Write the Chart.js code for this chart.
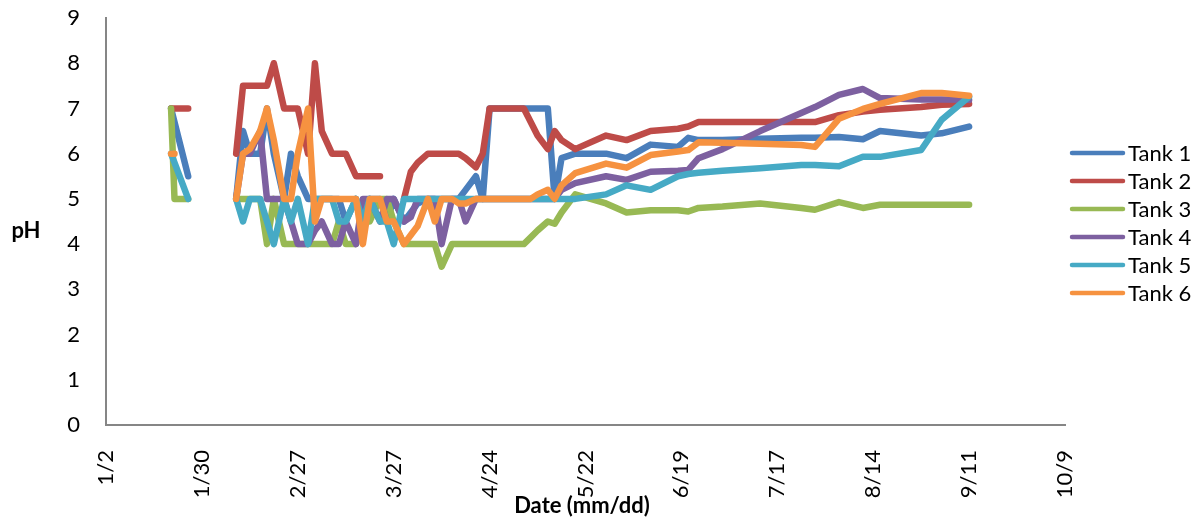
<!DOCTYPE html>
<html>
<head>
<meta charset="utf-8">
<title>Tank pH</title>
<script src="https://cdn.jsdelivr.net/npm/chart.js@4.4.0/dist/chart.umd.min.js"></script>
<style>
  html, body { margin: 0; padding: 0; background: #ffffff; }
  canvas { display: block; }
</style>
</head>
<body>
<canvas id="phChart" width="1200" height="520"></canvas>
<script>
// Sampling dates (m/d); "2/1" carries no readings and separates the January run from the rest.
const sampleDates = [
  '1/21', '1/22', '1/26', '2/1',
  '2/9', '2/11', '2/13', '2/16', '2/18', '2/20', '2/23', '2/25', '2/27', '3/2',
  '3/4', '3/6', '3/9', '3/11', '3/13', '3/16', '3/18', '3/20', '3/23', '3/25',
  '3/27', '3/30', '4/1', '4/3', '4/6', '4/8', '4/10', '4/13', '4/15', '4/17',
  '4/20', '4/22', '4/24', '4/27', '4/29', '5/1', '5/4', '5/6', '5/8', '5/11',
  '5/13', '5/15',
  '5/19', '5/28', '6/3', '6/10', '6/18', '6/21', '6/24', '7/1', '7/12', '7/24',
  '7/28', '8/4', '8/11', '8/16', '8/28', '9/3', '9/11'
];

// pH readings per tank (null = no reading / line break)
const tank1 = [
  7.0, 6.7, 5.5, null,
  5.0, 6.5, 6.0, 6.0, 7.0, 6.0, 5.0, 6.0, 5.5, 5.0,
  5.0, 5.0, 5.0, 5.0, 4.5, 5.0, 4.5, 5.0, 5.0, 4.5,
  5.0, 4.5, 4.7, 4.9, 5.0, 5.0, 5.0, 5.0, 5.0, 5.2,
  5.5, 5.0, 7.0, 7.0, 7.0, 7.0, 7.0, 7.0, 7.0, 7.0,
  5.0, 5.9,
  6.0, 6.0, 5.9, 6.2, 6.15, 6.35, 6.3, 6.3, 6.33, 6.35,
  6.35, 6.37, 6.32, 6.5, 6.4, 6.45, 6.6
];
const tank2 = [
  7.0, 7.0, 7.0, null,
  6.0, 7.5, 7.5, 7.5, 7.5, 8.0, 7.0, 7.0, 7.0, 6.0,
  8.0, 6.5, 6.0, 6.0, 6.0, 5.5, 5.5, 5.5, 5.5, null,
  null, 5.0, 5.6, 5.8, 6.0, 6.0, 6.0, 6.0, 6.0, 5.9,
  5.7, 6.0, 7.0, 7.0, 7.0, 7.0, 7.0, 6.7, 6.4, 6.1,
  6.5, 6.3,
  6.1, 6.4, 6.3, 6.5, 6.55, 6.6, 6.7, 6.7, 6.7, 6.7,
  6.7, 6.85, 6.93, 6.97, 7.03, 7.08, 7.1
];
const tank3 = [
  7.0, 5.0, 5.0, null,
  5.0, 5.0, 5.0, 5.0, 4.0, 5.0, 4.0, 4.0, 4.0, 4.0,
  4.0, 4.0, 4.0, 4.5, 4.0, 4.0, 4.5, 4.5, 5.0, 5.0,
  4.5, 4.0, 4.0, 4.0, 4.0, 4.0, 3.5, 4.0, 4.0, 4.0,
  4.0, 4.0, 4.0, 4.0, 4.0, 4.0, 4.0, 4.15, 4.3, 4.5,
  4.45, 4.7,
  5.1, 4.9, 4.7, 4.75, 4.75, 4.72, 4.8, 4.83, 4.9, 4.8,
  4.76, 4.93, 4.8, 4.87, 4.87, 4.87, 4.87
];
const tank4 = [
  null, null, null, null,
  5.0, 6.0, 6.0, 6.5, 5.0, 5.0, 5.0, 4.5, 4.0, 4.0,
  4.3, 4.5, 4.0, 4.0, 4.5, 4.0, 5.0, 5.0, 4.5, 5.0,
  5.0, 4.5, 4.6, 5.0, 5.0, 5.0, 4.0, 5.0, 5.0, 4.5,
  5.0, 5.0, 5.0, 5.0, 5.0, 5.0, 5.0, 5.0, 5.0, 5.0,
  5.0, 5.2,
  5.35, 5.5, 5.42, 5.6, 5.62, 5.64, 5.9, 6.1, 6.5, 6.9,
  7.03, 7.3, 7.43, 7.23, 7.2, 7.2, 7.19
];
const tank5 = [
  6.0, 5.8, 5.0, null,
  5.0, 4.5, 5.0, 5.0, 4.5, 4.0, 5.0, 4.5, 5.0, 4.0,
  5.0, 5.0, 5.0, 4.5, 4.5, 5.0, 4.5, 5.0, 4.5, 4.5,
  4.0, 5.0, 5.0, 5.0, 5.0, 5.0, 5.0, 5.0, 5.0, 5.0,
  5.0, 5.0, 5.0, 5.0, 5.0, 5.0, 5.0, 5.0, 5.0, 5.0,
  5.0, 5.0,
  5.0, 5.1, 5.3, 5.2, 5.5, 5.55, 5.58, 5.62, 5.68, 5.75,
  5.75, 5.72, 5.93, 5.93, 6.08, 6.75, 7.26
];
const tank6 = [
  6.0, 6.0, null, null,
  5.0, 6.0, 6.1, 6.5, 7.0, 6.3, 5.0, 5.0, 6.0, 7.0,
  4.5, 5.0, 5.0, 5.0, 5.0, 5.0, 4.0, 5.0, 5.0, 4.5,
  4.5, 4.0, 4.2, 4.4, 5.0, 4.5, 5.0, 5.0, 4.9, 4.9,
  5.0, 5.0, 5.0, 5.0, 5.0, 5.0, 5.0, 5.0, 5.1, 5.2,
  5.0, 5.3,
  5.57, 5.78, 5.69, 5.97, 6.05, 6.08, 6.25, 6.24, 6.22, 6.19,
  6.15, 6.77, 6.99, 7.1, 7.34, 7.34, 7.28
];

const seriesNames = ['Tank 1', 'Tank 2', 'Tank 3', 'Tank 4', 'Tank 5', 'Tank 6'];
const seriesColors = ['#4A7EBB', '#BE4B48', '#98B954', '#7D60A0', '#46AAC5', '#F69240'];

// Date axis tick labels, four weeks apart
const tickLabels = ['1/2', '1/30', '2/27', '3/27', '4/24', '5/22', '6/19', '7/17', '8/14', '9/11', '10/9'];
const yTitle = 'pH';
const xTitle = 'Date (mm/dd)';

// Days elapsed since 1/2 (non-leap year)
const monthLengths = [31, 28, 31, 30, 31, 30, 31, 31, 30, 31, 30, 31];
function dayNumber(md) {
  const [m, d] = md.split('/').map(Number);
  let n = d;
  for (let i = 0; i < m - 1; i++) n += monthLengths[i];
  return n - 2;
}
const sampleDays = sampleDates.map(dayNumber);
const tickDays = tickLabels.map(dayNumber);

const allTanks = [tank1, tank2, tank3, tank4, tank5, tank6];
const FONT = 'Lato, "Open Sans", sans-serif';

const datasets = allTanks.map((values, i) => ({
  label: seriesNames[i],
  data: values.map((v, j) => ({ x: sampleDays[j], y: v })),
  borderColor: seriesColors[i],
  backgroundColor: seriesColors[i],
  borderWidth: 6.5,
  borderJoinStyle: 'round',
  borderCapStyle: 'round',
  pointRadius: 0,
  pointHoverRadius: 0,
  tension: 0,
  spanGaps: false,
  order: allTanks.length - i   // later tanks painted on top
}));

// Axis titles and the series key on the right
const decorations = {
  id: 'decorations',
  afterDraw(chart) {
    const ctx = chart.ctx;
    ctx.save();
    ctx.fillStyle = '#000000';
    ctx.textBaseline = 'middle';
    ctx.font = 'bold 22px ' + FONT;
    ctx.textAlign = 'center';
    ctx.fillText(yTitle, 26, 231);
    ctx.fillText(xTitle, 582, 506);

    ctx.font = '22px ' + FONT;
    ctx.textAlign = 'left';
    chart.data.datasets.forEach((ds, i) => {
      const y = 153 + i * 28;
      ctx.strokeStyle = ds.borderColor;
      ctx.lineWidth = 4.5;
      ctx.lineCap = 'round';
      ctx.beginPath();
      ctx.moveTo(1072, y);
      ctx.lineTo(1123, y);
      ctx.stroke();
      ctx.fillText(ds.label, 1128, y + 1);
    });
    ctx.restore();
  }
};

new Chart(document.getElementById('phChart'), {
  type: 'line',
  data: { datasets },
  plugins: [decorations],
  options: {
    responsive: false,
    animation: false,
    events: [],
    layout: { padding: { top: 18, right: 135, bottom: 0, left: 0 } },
    plugins: {
      legend: { display: false },
      tooltip: { enabled: false },
      title: { display: false }
    },
    scales: {
      x: {
        type: 'linear',
        min: tickDays[0],
        max: tickDays[tickDays.length - 1],
        grid: { display: false, drawTicks: false },
        border: { display: true, color: '#868686', width: 2 },
        ticks: {
          autoSkip: false,
          minRotation: 90,
          maxRotation: 90,
          padding: 25,
          color: '#000000',
          font: { family: FONT, size: 22 },
          callback: (value) => {
            const k = tickDays.indexOf(value);
            return k >= 0 ? tickLabels[k] : '';
          }
        },
        afterBuildTicks: (scale) => {
          scale.ticks = tickDays.map((v) => ({ value: v }));
        },
        afterFit: (scale) => {
          scale.height = 95;
          scale.paddingLeft = 0;
          scale.paddingRight = 0;
        }
      },
      y: {
        min: 0,
        max: 9,
        grid: { display: false, drawTicks: false },
        border: { display: true, color: '#868686', width: 2 },
        ticks: {
          stepSize: 1,
          padding: 26,
          color: '#000000',
          font: { family: FONT, size: 22 }
        },
        afterFit: (scale) => {
          scale.width = 106;
          scale.paddingTop = 0;
          scale.paddingBottom = 0;
        }
      }
    }
  }
});
</script>
</body>
</html>
